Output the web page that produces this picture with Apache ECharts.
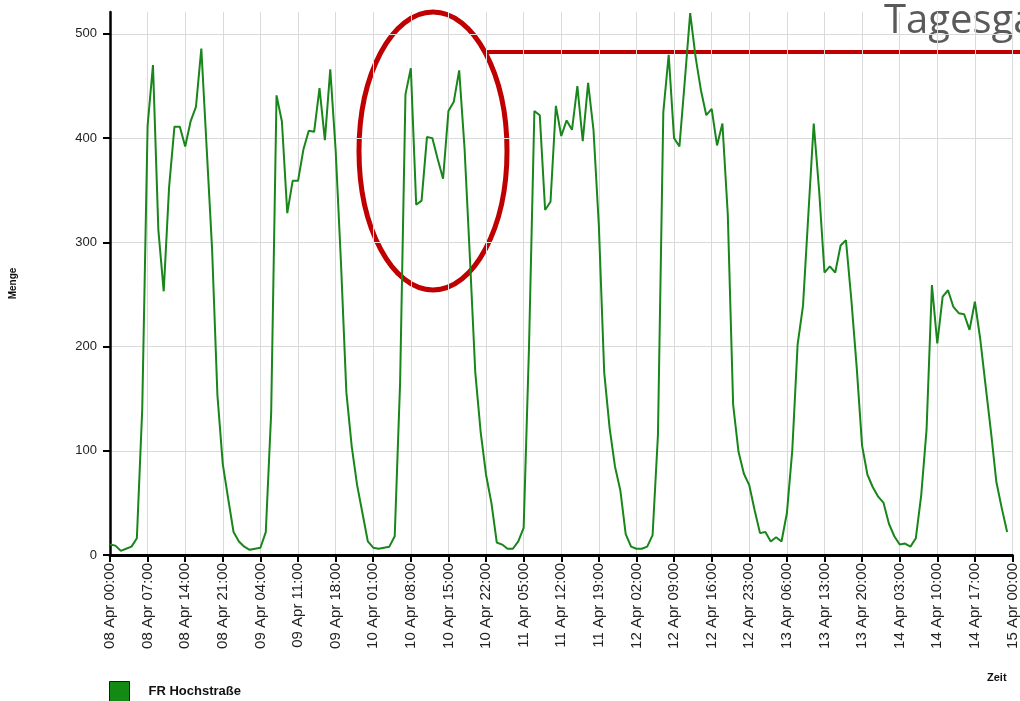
<!DOCTYPE html>
<html>
<head>
<meta charset="utf-8">
<title>FR Hochstraße</title>
<script src="https://cdn.jsdelivr.net/npm/echarts@6/dist/echarts.min.js"></script>
<style>
  html, body { margin: 0; padding: 0; background: #fff; }
  #chart { width: 1020px; height: 701px; }
</style>
</head>
<body>
<div id="chart"></div>
<script>
// hourly counts, one array per day (00:00 .. 23:00)
const apr08 = [10, 9, 4, 6, 8, 16, 140, 412, 470, 312, 253, 353, 411, 411, 392, 416, 430, 486, 390, 294, 153, 87, 54, 22];
const apr09 = [13, 8, 5, 6, 7, 22, 136, 441, 416, 328, 359, 359, 389, 407, 406, 448, 398, 466, 389, 280, 156, 104, 67, 40];
const apr10 = [13, 7, 6, 7, 8, 18, 165, 442, 467, 336, 340, 401, 400, 380, 361, 426, 435, 465, 390, 285, 175, 118, 77, 50];
const apr11 = [12, 10, 6, 6, 13, 26, 200, 426, 422, 331, 339, 431, 402, 417, 408, 450, 397, 453, 408, 316, 175, 122, 85, 62];
const apr12 = [20, 8, 6, 6, 8, 19, 115, 425, 480, 400, 392, 455, 520, 478, 446, 422, 428, 393, 414, 327, 144, 99, 78, 67];
const apr13 = [43, 21, 22, 13, 17, 13, 40, 100, 202, 239, 327, 414, 350, 271, 277, 271, 297, 302, 245, 180, 105, 77, 65, 56];
const apr14 = [50, 30, 18, 10, 11, 8, 16, 57, 120, 259, 203, 248, 254, 238, 232, 231, 216, 243, 207, 162, 118, 70, 45, 22];

const days = ["08 Apr", "09 Apr", "10 Apr", "11 Apr", "12 Apr", "13 Apr", "14 Apr", "15 Apr"];
const seriesName = "FR Hochstraße";

const values = [].concat(apr08, apr09, apr10, apr11, apr12, apr13, apr14);

// one category per hour, 08 Apr 00:00 .. 15 Apr 00:00
const hours = [];
for (let h = 0; h <= 7 * 24; h++) {
  const hh = h % 24;
  hours.push(days[Math.floor(h / 24)] + " " + (hh < 10 ? "0" : "") + hh + ":00");
}

const chart = echarts.init(document.getElementById("chart"), null, { renderer: "canvas" });

chart.setOption({
  animation: false,
  backgroundColor: "#fff",
  textStyle: { fontFamily: "Liberation Sans, Arial, sans-serif" },
  grid: { left: 110, right: 5, top: 12, bottom: 146 },
  legend: {
    left: 109,
    top: 681,
    padding: 0,
    icon: "rect",
    itemWidth: 20,
    itemHeight: 20,
    itemStyle: { color: "#138a13", borderColor: "#1a1a1a", borderWidth: 1 },
    textStyle: { color: "#111", fontSize: 13, fontWeight: "bold", padding: [0, 0, 0, 14] },
    data: [seriesName]
  },
  xAxis: {
    type: "category",
    data: hours,
    boundaryGap: false,
    axisLine: { lineStyle: { color: "#000", width: 3 } },
    axisTick: { interval: 6, length: 7, lineStyle: { color: "#000", width: 2 } },
    axisLabel: {
      interval: 6,
      rotate: 90,
      margin: 8,
      fontSize: 15,
      color: "#222"
    },
    splitLine: { show: true, interval: 6, lineStyle: { color: "#dadada", width: 1 } }
  },
  yAxis: {
    type: "value",
    min: 0,
    max: 521,
    interval: 100,
    name: "Menge",
    nameLocation: "middle",
    nameRotate: 90,
    nameGap: 92,
    nameTextStyle: { fontSize: 10, fontWeight: "bold", color: "#111" },
    axisLine: { show: true, lineStyle: { color: "#000", width: 2.5 } },
    axisTick: { show: true, inside: false, length: 7, lineStyle: { color: "#000", width: 2 } },
    axisLabel: { margin: 13, fontSize: 13, color: "#222", showMaxLabel: false },
    splitLine: { show: true, showMaxLine: false, lineStyle: { color: "#dadada", width: 1 } }
  },
  series: [
    {
      name: seriesName,
      type: "line",
      data: values,
      showSymbol: false,
      symbol: "none",
      color: "#138a13",
      lineStyle: { color: "#18861a", width: 2 }
    }
  ],
  graphic: [
    {
      type: "text",
      left: 987,
      top: 672,
      style: { text: "Zeit", fill: "#111", font: "bold 11px Liberation Sans, Arial, sans-serif" }
    },
    {
      type: "text",
      left: 884,
      top: 2,
      style: { text: "Tagesganglinie", fill: "#5a5a5a", font: "40px Open Sans, sans-serif" }
    },
    {
      type: "line",
      shape: { x1: 487, y1: 52, x2: 1020, y2: 52 },
      style: { stroke: "#c00000", lineWidth: 4 }
    },
    {
      type: "ellipse",
      shape: { cx: 433, cy: 151, rx: 74, ry: 139 },
      style: { fill: null, stroke: "#c00000", lineWidth: 5 }
    }
  ]
});
</script>
</body>
</html>
